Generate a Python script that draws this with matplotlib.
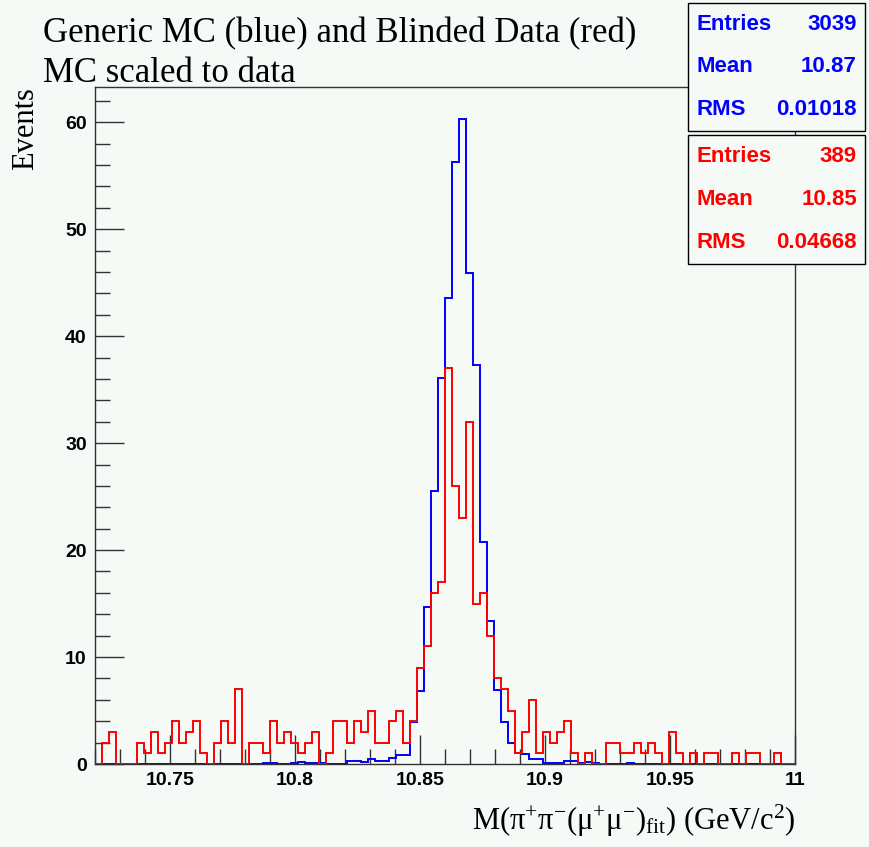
import numpy as np
import matplotlib
matplotlib.use("Agg")
import matplotlib.pyplot as plt
from matplotlib.ticker import MultipleLocator, FuncFormatter

plt.rcParams['mathtext.fontset'] = 'custom'
plt.rcParams['mathtext.rm'] = 'Liberation Serif'
plt.rcParams['mathtext.it'] = 'Liberation Serif:italic'

##############################################
# histogram contents (100 bins, 10.72 - 11)
##############################################
nbins = 100
xmin, xmax = 10.72, 11.0

data_counts = [0, 2, 3, 0, 0, 0, 2, 1, 3, 1,
               2, 4, 2, 3, 4, 1, 0, 2, 4, 2,
               7, 0, 2, 2, 1, 4, 2, 3, 2, 1,
               2, 3, 0, 1, 4, 4, 2, 4, 3, 5,
               2, 2, 4, 5, 2, 4, 9, 11, 16, 17,
               37, 26, 23, 32, 15, 16, 12, 8, 7, 5,
               1, 3, 6, 1, 3, 2, 3, 4, 1, 0,
               1, 0, 0, 2, 2, 1, 1, 2, 1, 2,
               1, 0, 3, 1, 0, 1, 0, 1, 1, 0,
               0, 1, 0, 1, 1, 0, 0, 1, 0, 0]

mc_scaled = [0, 0, 0, 0, 0, 0, 0, 0, 0, 0,
             0, 0, 0, 0, 0, 0, 0, 0, 0, 0,
             0, 0, 0, 0, 0.05, 0.05, 0, 0, 0.05, 0.2,
             0.1, 0.1, 0.1, 0, 0, 0, 0.25, 0.25, 0.2, 0.5,
             0.3, 0.3, 0.6, 0.8, 0.8, 3.9, 6.8, 14.7, 25.5, 36.1,
             43.6, 56.3, 60.3, 45.9, 37.3, 20.8, 13.4, 6.9, 3.9, 2.0,
             1.0, 0.95, 0.5, 0.5, 0.05, 0.05, 0.1, 0.3, 0.3, 0.1,
             0.2, 0.1, 0, 0, 0, 0, 0.1, 0, 0, 0,
             0, 0, 0, 0, 0, 0, 0, 0, 0, 0,
             0, 0, 0, 0, 0, 0, 0, 0, 0, 0]

mc_stats = [("Entries", "3039"), ("Mean", "10.87"), ("RMS", "0.01018")]
data_stats = [("Entries", "389"), ("Mean", "10.85"), ("RMS", "0.04668")]

edges = np.linspace(xmin, xmax, nbins + 1)

W, H = 870, 847
bg = '#f6faf7'
fig = plt.figure(figsize=(W / 100, H / 100), dpi=100, facecolor=bg)

def fx(px):
    return px / W

def fy(py):
    return 1 - py / H

ax = fig.add_axes([fx(95), fy(764), fx(795) - fx(95), fy(87) - fy(764)])
ax.set_facecolor(bg)

ax.stairs(mc_scaled, edges, color='blue', lw=1.4, baseline=0, zorder=2)
ax.stairs(data_counts, edges, color='red', lw=1.4, baseline=0, zorder=3)

ax.set_xlim(xmin, xmax)
ax.set_ylim(0, 63.3)

ax.xaxis.set_major_locator(MultipleLocator(0.05))
ax.xaxis.set_minor_locator(MultipleLocator(0.01))
ax.yaxis.set_major_locator(MultipleLocator(10))
ax.yaxis.set_minor_locator(MultipleLocator(2))
ax.xaxis.set_major_formatter(FuncFormatter(lambda v, p: '%g' % round(v, 4)))
ax.yaxis.set_major_formatter(FuncFormatter(lambda v, p: '%g' % v))

ax.tick_params(which='both', direction='in', top=False, right=False,
               color='#333333', width=1)
ax.tick_params(which='major', length=21)
ax.tick_params(which='minor', length=11)
ax.tick_params(axis='x', which='major', pad=6)
ax.tick_params(axis='y', which='major', pad=6)
for lab in ax.get_xticklabels() + ax.get_yticklabels():
    lab.set_fontfamily('Liberation Sans')
    lab.set_fontweight('bold')
    lab.set_fontsize(14)

for sp in ax.spines.values():
    sp.set_linewidth(1)
    sp.set_color('#333333')

# titles
fig.text(fx(43), fy(42), "Generic MC (blue) and Blinded Data (red)",
         fontfamily='Liberation Serif', fontsize=25, va='baseline', ha='left')
fig.text(fx(43), fy(82), "MC scaled to data",
         fontfamily='Liberation Serif', fontsize=25, va='baseline', ha='left')
fig.text(fx(40), fy(87), "Events", rotation=90, fontfamily='Liberation Serif',
         fontsize=22, va='top', ha='right')
fig.text(fx(795), fy(830),
         r"M(π$^{+}$π$^{-}$(μ$^{+}$μ$^{-}$)$_{\mathrm{fit}}$) (GeV/c$^{2}$)",
         fontfamily='Liberation Serif', fontsize=22, va='baseline', ha='right')

# stat boxes
def stat_box(top, bottom, rows, color):
    box = plt.Rectangle((fx(688), fy(bottom)), fx(865) - fx(688), fy(top) - fy(bottom),
                        transform=fig.transFigure, facecolor=bg,
                        edgecolor='black', lw=1, zorder=5)
    fig.patches.append(box)
    ys = np.linspace(top, bottom, len(rows) * 2 + 1)[1::2]
    for (name, val), yy in zip(rows, ys):
        fig.text(fx(697), fy(yy), name, color=color, fontfamily='Liberation Sans',
                 fontweight='bold', fontsize=16, va='center', ha='left', zorder=6)
        fig.text(fx(857), fy(yy), val, color=color, fontfamily='Liberation Sans',
                 fontweight='bold', fontsize=16, va='center', ha='right', zorder=6)

stat_box(3, 131, mc_stats, 'blue')
stat_box(135, 264, data_stats, 'red')

fig.savefig('out.png', dpi=100, facecolor=bg)
